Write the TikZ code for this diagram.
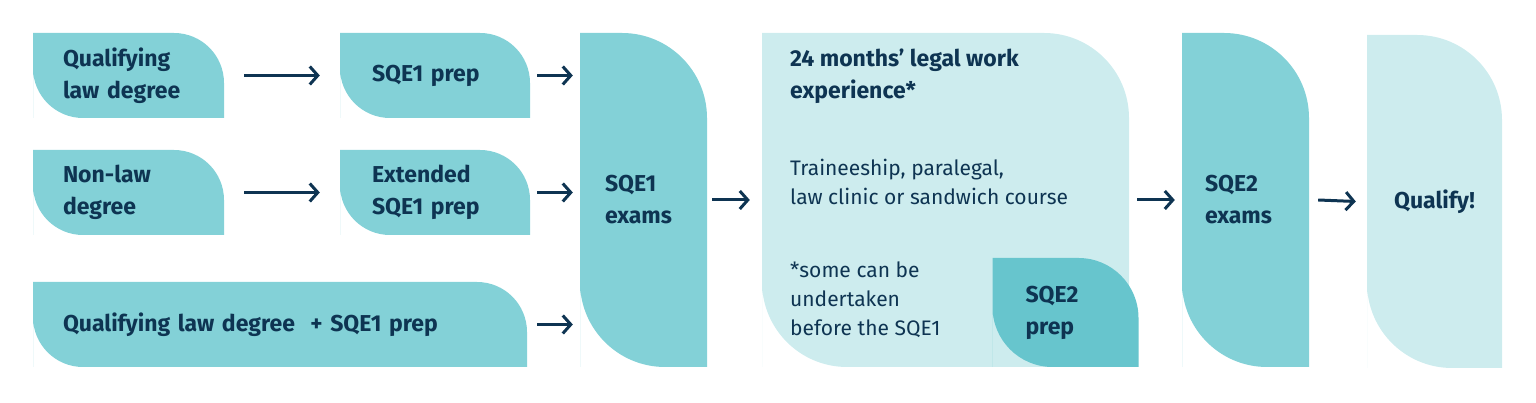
\documentclass[tikz,border=0pt]{standalone}
\usepackage{fontspec}
\setmainfont{Fira Sans}
\usetikzlibrary{arrows.meta}
\definecolor{midteal}{HTML}{83D1D7}
\definecolor{paleteal}{HTML}{CDECEE}
\definecolor{deepteal}{HTML}{67C5CD}
\definecolor{navy}{HTML}{0E3452}

\tikzset{
  leaf/.style 2 args={rectangle, inner sep=0pt, text=navy,
    path picture={
      \fill[#1] (path picture bounding box.south west)
        -- (path picture bounding box.north west)
        -- ([xshift=-#2pt]path picture bounding box.north east)
        arc[start angle=90, end angle=0, radius=#2pt]
        -- (path picture bounding box.south east)
        -- ([xshift=#2pt]path picture bounding box.south west)
        arc[start angle=270, end angle=180, radius=#2pt] -- cycle;}},
  boxtext/.style={font=\fontsize{23}{32}\selectfont\bfseries, align=left},
  plain/.style={font=\fontsize{21}{29}\selectfont, text=navy, align=left, inner sep=0pt, anchor=west},
  arr/.style={-{Straight Barb[length=8pt, width=18pt, line width=3pt]}, line width=3pt, navy}
}

\begin{document}
\begin{tikzpicture}[x=1pt, y=1pt]
  \useasboundingbox (0,0) rectangle (1536,403);

  % left column
  \node[leaf={midteal}{50}, boxtext, minimum height=85pt, text width=131pt, inner xsep=30pt]
    (qld) at (128.5,327.5) {Qualifying\\law degree};
  \node[leaf={midteal}{50}, boxtext, minimum height=85pt, text width=131pt, inner xsep=30pt]
    (nonlaw) at (128.5,210.5) {Non-law\\degree};
  \node[leaf={midteal}{50}, boxtext, minimum height=85pt, text width=434pt, inner xsep=30pt]
    (qlp) at (280,78.5) {Qualifying law degree\ \ + SQE1 prep};

  % prep column
  \node[leaf={midteal}{50}, boxtext, minimum height=85pt, text width=126pt, inner xsep=32pt]
    (prep) at (435,327.5) {SQE1 prep};
  \node[leaf={midteal}{50}, boxtext, minimum height=85pt, text width=126pt, inner xsep=32pt]
    (ext) at (435,210.5) {Extended\\SQE1 prep};

  % exams and experience
  \node[leaf={midteal}{85}, boxtext, minimum height=334pt, text width=77pt, inner xsep=25pt]
    (exams) at (643.5,203) {SQE1\\exams};
  \node[leaf={paleteal}{85}, minimum height=334pt, minimum width=367pt]
    (work) at (945.5,203) {};
  \node[leaf={deepteal}{60}, boxtext, minimum height=109pt, text width=80pt, inner xsep=33pt]
    (prep2) at (1065.5,90.5) {SQE2\\prep};
  \node[plain, font=\fontsize{23}{32}\selectfont\bfseries, anchor=north west]
    (worktitle) at (790,354) {24 months’ legal work\\experience*};
  \node[plain] (worktext) at (790,221) {Traineeship, paralegal,\\law clinic or sandwich course};
  \node[plain] (worknote) at (790,103) {*some can be\\undertaken\\before the SQE1};

  \node[leaf={midteal}{85}, boxtext, minimum height=334pt, text width=81pt, inner xsep=23pt]
    (exams2) at (1245.5,203) {SQE2\\exams};
  \node[leaf={paleteal}{85}, boxtext, minimum height=333pt, minimum width=135pt, align=center]
    (qualify) at (1434.5,201.5) {Qualify!};

  % arrows
  \draw[arr] ([xshift=20pt]qld.east) -- ([xshift=-20pt]prep.west);
  \draw[arr] ([xshift=20pt]nonlaw.east) -- ([xshift=-20pt]ext.west);
  \draw[arr] ([xshift=7pt]prep.east) -- ([xshift=-7pt]prep.east -| exams.west);
  \draw[arr] ([xshift=7pt]ext.east) -- ([xshift=-7pt]ext.east -| exams.west);
  \draw[arr] ([xshift=10pt]qlp.east) -- ([xshift=-7pt]qlp.east -| exams.west);
  \draw[arr] ([xshift=5pt]exams.east) -- ([xshift=-12pt]work.west);
  \draw[arr] ([xshift=8pt]work.east) -- ([xshift=-7pt]exams2.west);
  \draw[arr] ([xshift=9pt]exams2.east) -- ([xshift=-11pt]qualify.west);
\end{tikzpicture}
\end{document}
